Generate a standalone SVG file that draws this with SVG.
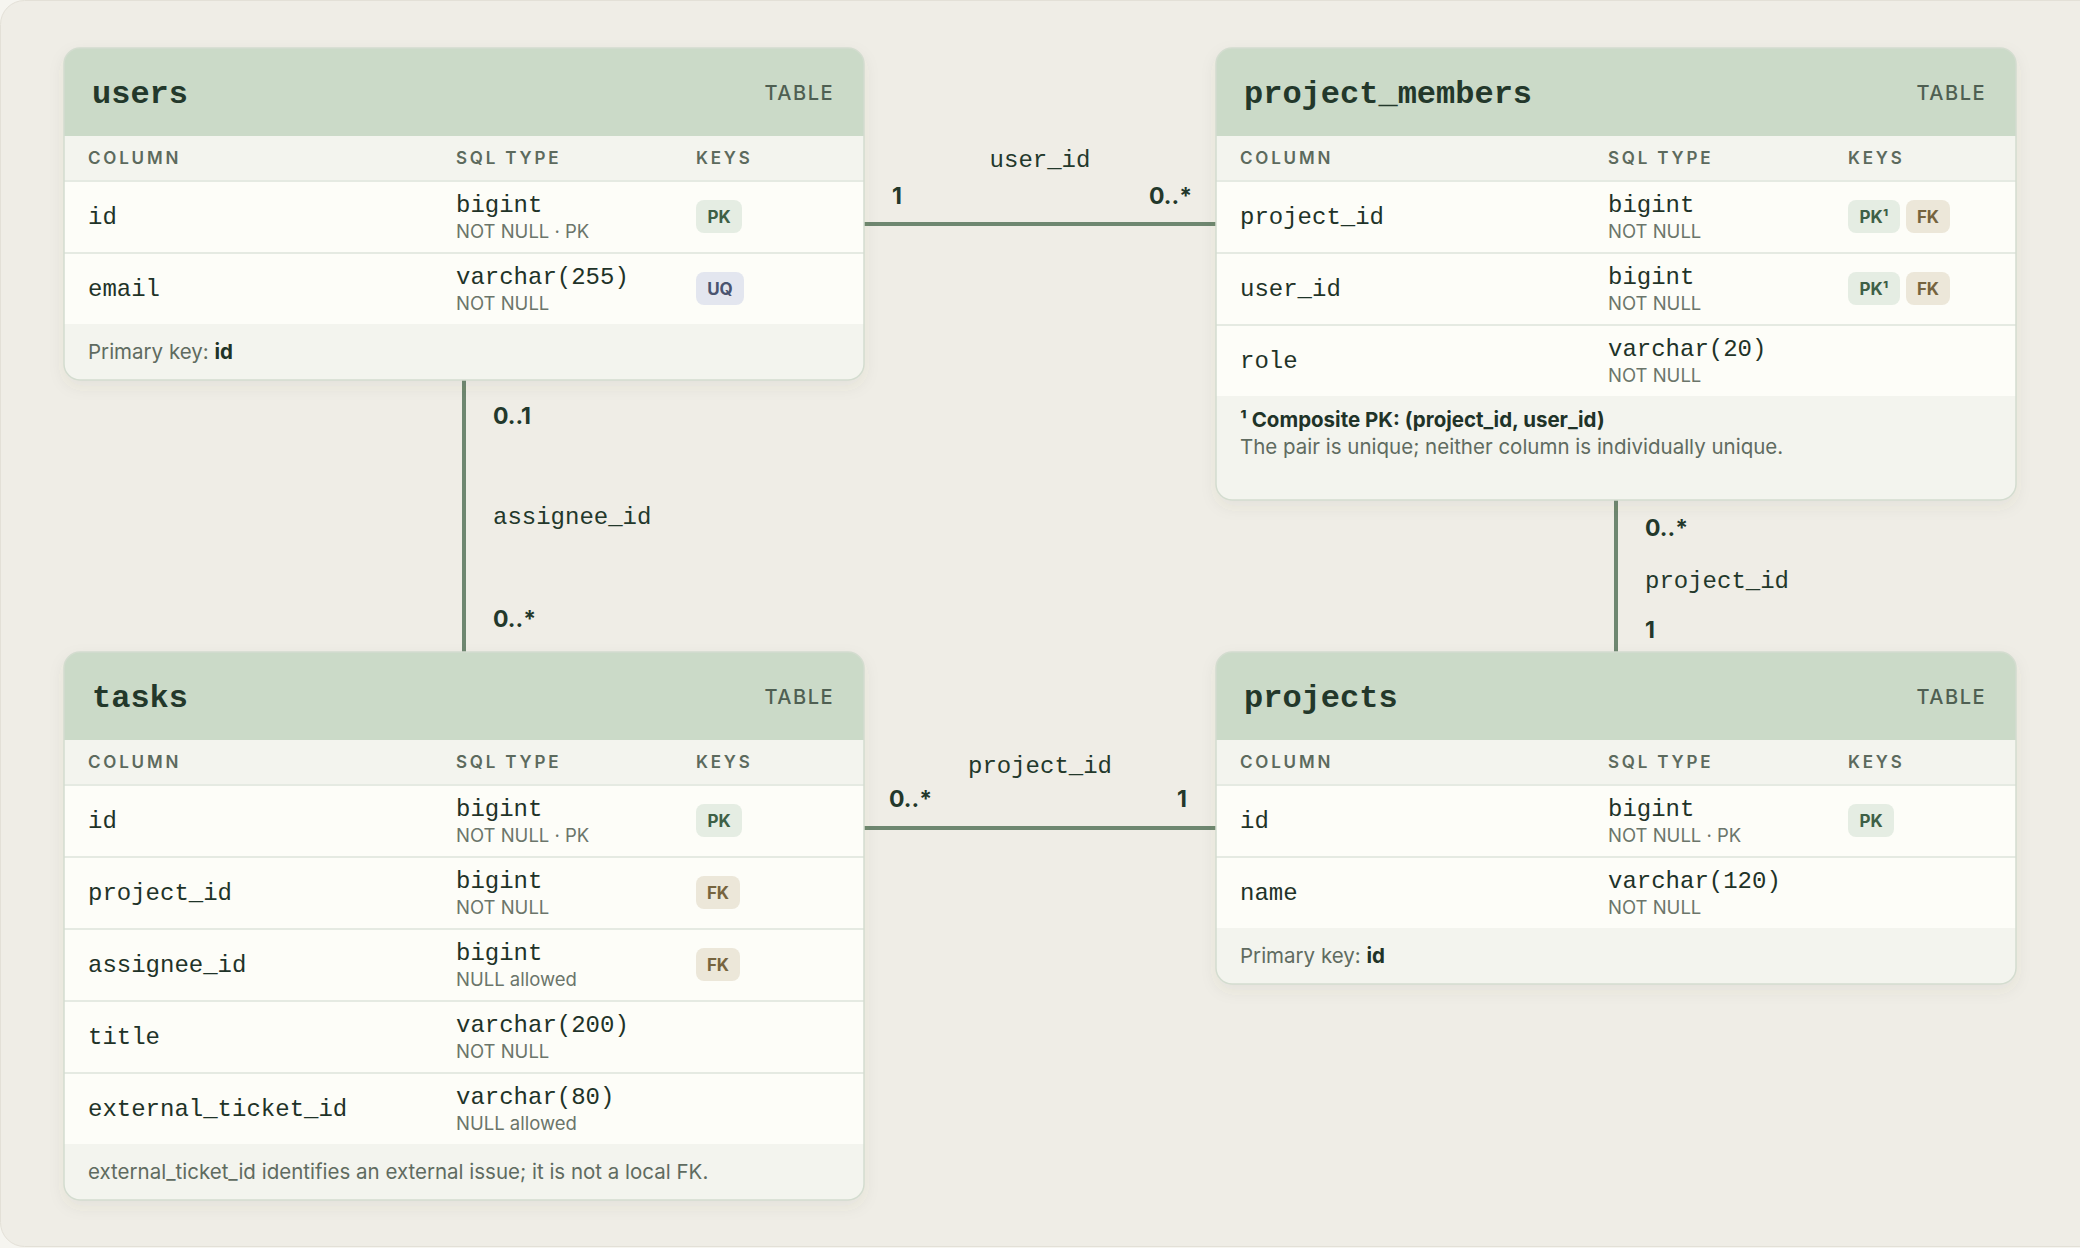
<svg xmlns="http://www.w3.org/2000/svg" width="2080" height="1248" viewBox="0 0 2080 1248">
<style>
.title{font-family:"Courier New","Nimbus Mono PS","Liberation Mono",monospace;font-weight:700;font-size:32px;fill:#23382b}
.tag{font-family:Inter,"Liberation Sans",sans-serif;font-weight:500;font-size:20px;letter-spacing:1.5px;fill:#4f5f52}
.colh{font-family:Inter,"Liberation Sans",sans-serif;font-weight:600;font-size:17px;letter-spacing:2.8px;fill:#5c6a5d}
.name{font-family:"Courier New","Nimbus Mono PS","Liberation Mono",monospace;font-size:24px;fill:#1f3328}
.type{font-family:"Courier New","Nimbus Mono PS","Liberation Mono",monospace;font-size:24px;fill:#1f3328}
.sub{font-family:Inter,"Liberation Sans",sans-serif;font-size:18.5px;fill:#6b756a}
.foot{font-family:Inter,"Liberation Sans",sans-serif;font-size:20.5px;fill:#5f6b60}
.footb{font-family:Inter,"Liberation Sans",sans-serif;font-size:20.5px;font-weight:700;fill:#1f3328}
.badge{font-family:Inter,"Liberation Sans",sans-serif;font-size:17px;font-weight:700;text-anchor:middle}
.pk rect{fill:#e5ede3}.pk text{fill:#3e6046}
.fk rect{fill:#ece7d9}.fk text{fill:#76643f}
.uq rect{fill:#e3e6ef}.uq text{fill:#4a5470}
.hdr{fill:#cbdac8}.ch{fill:#f3f4ee}.row{fill:#fdfdf8}.ft{fill:#f3f4ee}
.div{stroke:#e5eae2;stroke-width:2}
.border{fill:none;stroke:#d3dccf;stroke-width:1.5}
.edge{stroke:#6e8770;stroke-width:4;fill:none}
.lbl{font-family:"Courier New","Nimbus Mono PS","Liberation Mono",monospace;font-size:24px;fill:#23382b}
.card{font-family:Inter,"Liberation Sans",sans-serif;font-size:23px;font-weight:700;fill:#23382b}
</style>
<defs>
<filter id="sh" x="-10%" y="-10%" width="120%" height="130%">
<feDropShadow dx="0" dy="6" stdDeviation="8" flood-color="#5a5a40" flood-opacity="0.08"/>
</filter>
<clipPath id="cu"><rect x="64" y="48" width="800" height="332" rx="16"/></clipPath>
<clipPath id="cm"><rect x="1216" y="48" width="800" height="452" rx="16"/></clipPath>
<clipPath id="ct"><rect x="64" y="652" width="800" height="548" rx="16"/></clipPath>
<clipPath id="cp"><rect x="1216" y="652" width="800" height="332" rx="16"/></clipPath>
</defs>
<rect x="0" y="0" width="2080" height="1248" fill="#f6f5f0"/>
<rect x="0.5" y="0.5" width="2200" height="1246" rx="24" fill="#efede6" stroke="#e3e0d7" stroke-width="1"/>

<g id="connectors">
<line class="edge" x1="864" y1="224" x2="1216" y2="224"/>
<text class="lbl" x="1040" y="167" text-anchor="middle">user_id</text>
<text class="card" x="892" y="204">1</text>
<text class="card" x="1192" y="204" text-anchor="end">0..*</text>

<line class="edge" x1="464" y1="380" x2="464" y2="652"/>
<text class="card" x="493" y="424">0..1</text>
<text class="lbl" x="493" y="524">assignee_id</text>
<text class="card" x="493" y="627">0..*</text>

<line class="edge" x1="1616" y1="500" x2="1616" y2="652"/>
<text class="card" x="1645" y="536">0..*</text>
<text class="lbl" x="1645" y="588">project_id</text>
<text class="card" x="1645" y="638">1</text>

<line class="edge" x1="864" y1="828" x2="1216" y2="828"/>
<text class="lbl" x="1040" y="773" text-anchor="middle">project_id</text>
<text class="card" x="889" y="807">0..*</text>
<text class="card" x="1187" y="807" text-anchor="end">1</text>
</g>

<g id="users">
<rect x="64" y="48" width="800" height="332" rx="16" fill="#fdfdf8" filter="url(#sh)"/>
<g clip-path="url(#cu)">
<rect class="hdr" x="64" y="48" width="800" height="88"/>
<rect class="ch" x="64" y="136" width="800" height="44"/>
<rect class="row" x="64" y="180" width="800" height="144"/>
<rect class="ft" x="64" y="324" width="800" height="56"/>
<line class="div" x1="64" y1="181" x2="864" y2="181"/>
<line class="div" x1="64" y1="253" x2="864" y2="253"/>
</g>
<rect class="border" x="64" y="48" width="800" height="332" rx="16"/>
<text class="title" x="92" y="103">users</text>
<text class="tag" x="834" y="100" text-anchor="end">TABLE</text>
<text class="colh" x="88" y="164">COLUMN</text>
<text class="colh" x="456" y="164">SQL TYPE</text>
<text class="colh" x="696" y="164">KEYS</text>
<text class="name" x="88" y="224">id</text>
<text class="type" x="456" y="212">bigint</text>
<text class="sub" x="456" y="238">NOT NULL · PK</text>
<g class="pk"><rect x="696" y="200" width="46" height="33" rx="8"/><text class="badge" x="719" y="223">PK</text></g>
<text class="name" x="88" y="296">email</text>
<text class="type" x="456" y="284">varchar(255)</text>
<text class="sub" x="456" y="310">NOT NULL</text>
<g class="uq"><rect x="696" y="272" width="48" height="33" rx="8"/><text class="badge" x="720" y="295">UQ</text></g>
<text class="foot" x="88" y="359">Primary key: <tspan class="footb">id</tspan></text>
</g>

<g id="project_members">
<rect x="1216" y="48" width="800" height="452" rx="16" fill="#fdfdf8" filter="url(#sh)"/>
<g clip-path="url(#cm)">
<rect class="hdr" x="1216" y="48" width="800" height="88"/>
<rect class="ch" x="1216" y="136" width="800" height="44"/>
<rect class="row" x="1216" y="180" width="800" height="216"/>
<rect class="ft" x="1216" y="396" width="800" height="104"/>
<line class="div" x1="1216" y1="181" x2="2016" y2="181"/>
<line class="div" x1="1216" y1="253" x2="2016" y2="253"/>
<line class="div" x1="1216" y1="325" x2="2016" y2="325"/>
</g>
<rect class="border" x="1216" y="48" width="800" height="452" rx="16"/>
<text class="title" x="1244" y="103">project_members</text>
<text class="tag" x="1986" y="100" text-anchor="end">TABLE</text>
<text class="colh" x="1240" y="164">COLUMN</text>
<text class="colh" x="1608" y="164">SQL TYPE</text>
<text class="colh" x="1848" y="164">KEYS</text>
<text class="name" x="1240" y="224">project_id</text>
<text class="type" x="1608" y="212">bigint</text>
<text class="sub" x="1608" y="238">NOT NULL</text>
<g class="pk"><rect x="1848" y="200" width="52" height="33" rx="8"/><text class="badge" x="1874" y="223">PK¹</text></g>
<g class="fk"><rect x="1906" y="200" width="44" height="33" rx="8"/><text class="badge" x="1928" y="223">FK</text></g>
<text class="name" x="1240" y="296">user_id</text>
<text class="type" x="1608" y="284">bigint</text>
<text class="sub" x="1608" y="310">NOT NULL</text>
<g class="pk"><rect x="1848" y="272" width="52" height="33" rx="8"/><text class="badge" x="1874" y="295">PK¹</text></g>
<g class="fk"><rect x="1906" y="272" width="44" height="33" rx="8"/><text class="badge" x="1928" y="295">FK</text></g>
<text class="name" x="1240" y="368">role</text>
<text class="type" x="1608" y="356">varchar(20)</text>
<text class="sub" x="1608" y="382">NOT NULL</text>
<text class="footb" x="1240" y="427">¹ Composite PK: (project_id, user_id)</text>
<text class="foot" x="1240" y="454">The pair is unique; neither column is individually unique.</text>
</g>

<g id="tasks">
<rect x="64" y="652" width="800" height="548" rx="16" fill="#fdfdf8" filter="url(#sh)"/>
<g clip-path="url(#ct)">
<rect class="hdr" x="64" y="652" width="800" height="88"/>
<rect class="ch" x="64" y="740" width="800" height="44"/>
<rect class="row" x="64" y="784" width="800" height="360"/>
<rect class="ft" x="64" y="1144" width="800" height="56"/>
<line class="div" x1="64" y1="785" x2="864" y2="785"/>
<line class="div" x1="64" y1="857" x2="864" y2="857"/>
<line class="div" x1="64" y1="929" x2="864" y2="929"/>
<line class="div" x1="64" y1="1001" x2="864" y2="1001"/>
<line class="div" x1="64" y1="1073" x2="864" y2="1073"/>
</g>
<rect class="border" x="64" y="652" width="800" height="548" rx="16"/>
<text class="title" x="92" y="707">tasks</text>
<text class="tag" x="834" y="704" text-anchor="end">TABLE</text>
<text class="colh" x="88" y="768">COLUMN</text>
<text class="colh" x="456" y="768">SQL TYPE</text>
<text class="colh" x="696" y="768">KEYS</text>
<text class="name" x="88" y="828">id</text>
<text class="type" x="456" y="816">bigint</text>
<text class="sub" x="456" y="842">NOT NULL · PK</text>
<g class="pk"><rect x="696" y="804" width="46" height="33" rx="8"/><text class="badge" x="719" y="827">PK</text></g>
<text class="name" x="88" y="900">project_id</text>
<text class="type" x="456" y="888">bigint</text>
<text class="sub" x="456" y="914">NOT NULL</text>
<g class="fk"><rect x="696" y="876" width="44" height="33" rx="8"/><text class="badge" x="718" y="899">FK</text></g>
<text class="name" x="88" y="972">assignee_id</text>
<text class="type" x="456" y="960">bigint</text>
<text class="sub" x="456" y="986">NULL allowed</text>
<g class="fk"><rect x="696" y="948" width="44" height="33" rx="8"/><text class="badge" x="718" y="971">FK</text></g>
<text class="name" x="88" y="1044">title</text>
<text class="type" x="456" y="1032">varchar(200)</text>
<text class="sub" x="456" y="1058">NOT NULL</text>
<text class="name" x="88" y="1116">external_ticket_id</text>
<text class="type" x="456" y="1104">varchar(80)</text>
<text class="sub" x="456" y="1130">NULL allowed</text>
<text class="foot" x="88" y="1179">external_ticket_id identifies an external issue; it is not a local FK.</text>
</g>

<g id="projects">
<rect x="1216" y="652" width="800" height="332" rx="16" fill="#fdfdf8" filter="url(#sh)"/>
<g clip-path="url(#cp)">
<rect class="hdr" x="1216" y="652" width="800" height="88"/>
<rect class="ch" x="1216" y="740" width="800" height="44"/>
<rect class="row" x="1216" y="784" width="800" height="144"/>
<rect class="ft" x="1216" y="928" width="800" height="56"/>
<line class="div" x1="1216" y1="785" x2="2016" y2="785"/>
<line class="div" x1="1216" y1="857" x2="2016" y2="857"/>
</g>
<rect class="border" x="1216" y="652" width="800" height="332" rx="16"/>
<text class="title" x="1244" y="707">projects</text>
<text class="tag" x="1986" y="704" text-anchor="end">TABLE</text>
<text class="colh" x="1240" y="768">COLUMN</text>
<text class="colh" x="1608" y="768">SQL TYPE</text>
<text class="colh" x="1848" y="768">KEYS</text>
<text class="name" x="1240" y="828">id</text>
<text class="type" x="1608" y="816">bigint</text>
<text class="sub" x="1608" y="842">NOT NULL · PK</text>
<g class="pk"><rect x="1848" y="804" width="46" height="33" rx="8"/><text class="badge" x="1871" y="827">PK</text></g>
<text class="name" x="1240" y="900">name</text>
<text class="type" x="1608" y="888">varchar(120)</text>
<text class="sub" x="1608" y="914">NOT NULL</text>
<text class="foot" x="1240" y="963">Primary key: <tspan class="footb">id</tspan></text>
</g>
</svg>
